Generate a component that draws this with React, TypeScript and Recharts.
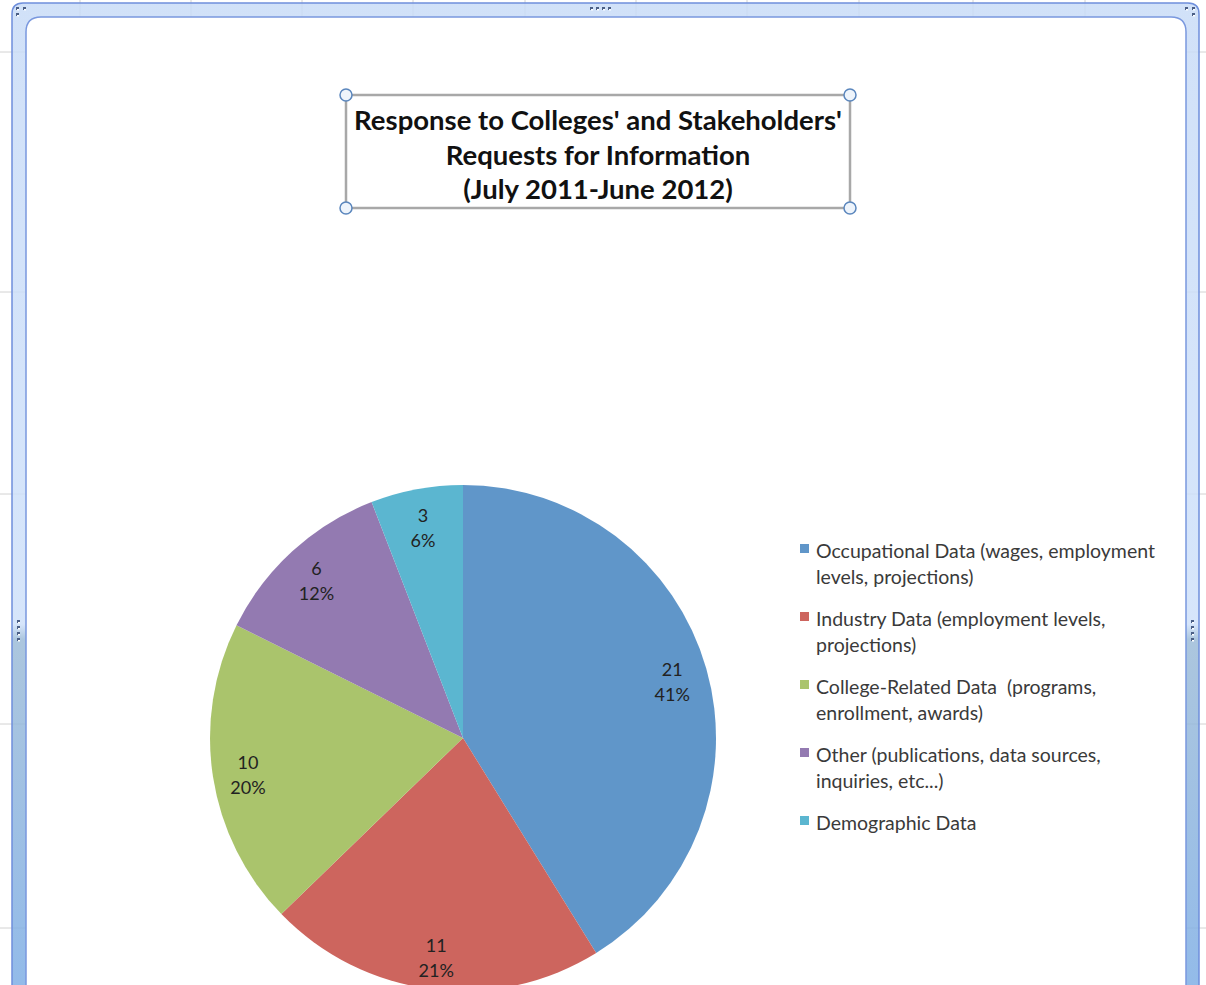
import React from 'react';
import { Cell, Legend, Pie, PieChart } from 'recharts';

const categories = [
	'Occupational Data (wages, employment levels, projections)',
	'Industry Data (employment levels, projections)',
	'College-Related Data\u00a0 (programs, enrollment, awards)',
	'Other (publications, data sources, inquiries, etc...)',
	'Demographic Data',
];
const requests = [21, 11, 10, 6, 3];
const percentLabels = ['41%', '21%', '20%', '12%', '6%'];
const colors = ['#6096C9', '#CD655E', '#AAC46C', '#937AB1', '#5BB6D0'];

const titleLines = [
	"Response to Colleges' and Stakeholders'",
	'Requests for Information',
	'(July 2011-June 2012)',
];

const data = categories.map((name, i) => ({
	name,
	value: requests[i],
	pct: percentLabels[i],
}));

// spreadsheet grid behind the chart frame
const gridCols = [80, 191, 302, 413, 525, 636, 747, 859, 973, 1085];
const gridRows = [52, 292, 494, 724, 928];

const W = 1206;
const H = 985;
const FONT = 'Lato, "Open Sans", sans-serif';
const RADIAN = Math.PI / 180;

const renderLabel = (props: any) => {
	const { cx, cy, midAngle, outerRadius, index } = props;
	const r = outerRadius * 0.86;
	const x = cx + r * Math.cos(-midAngle * RADIAN);
	const y = cy + r * Math.sin(-midAngle * RADIAN);
	return (
		<text
			x={x}
			y={y}
			textAnchor="middle"
			fill="#222"
			fontFamily={FONT}
			fontSize={18}
		>
			<tspan x={x} dy={-2}>
				{data[index].value}
			</tspan>
			<tspan x={x} dy={25}>
				{data[index].pct}
			</tspan>
		</text>
	);
};

const renderLegend = () => (
	<div style={{ fontFamily: FONT, fontSize: 19.5, color: '#3a3a3a' }}>
		{data.map((d, i) => (
			<div
				key={d.name}
				style={{
					position: 'relative',
					paddingLeft: 18,
					lineHeight: '26px',
					marginBottom: 16,
					width: 352,
				}}
			>
				<span
					style={{
						position: 'absolute',
						left: 2,
						top: 6,
						width: 9,
						height: 9,
						background: colors[i],
					}}
				/>
				{d.name}
			</div>
		))}
	</div>
);

const Dots = ({ pts }: { pts: [number, number][] }) => (
	<g>
		{pts.map(([x, y], i) => (
			<g key={i}>
				<rect x={x} y={y} width={3} height={3} fill="#4b5f86" />
				<rect x={x + 1} y={y + 2} width={2} height={1.5} fill="#ffffff" />
			</g>
		))}
	</g>
);

const Frame = () => (
	<svg
		width={W}
		height={H}
		style={{ position: 'absolute', left: 0, top: 0 }}
	>
		<defs>
			<linearGradient id="sideBand" x1="0" y1="0" x2="0" y2="1">
				<stop offset="0" stopColor="#c9dcf7" />
				<stop offset="0.62" stopColor="#cfe1fa" />
				<stop offset="0.635" stopColor="#9dbcd8" />
				<stop offset="1" stopColor="#7eaee6" />
			</linearGradient>
		</defs>
		<rect x={0} y={0} width={W} height={H} fill="#fff" />
		{gridCols.map((x) => (
			<line key={x} x1={x} y1={0} x2={x} y2={H} stroke="#d2d2d2" />
		))}
		{gridRows.map((y) => (
			<line key={y} x1={0} y1={y} x2={W} y2={y} stroke="#d2d2d2" />
		))}
		<path
			d={`M12 ${H + 20} L12 14 Q12 3 23 3 L1188 3 Q1199 3 1199 14 L1199 ${H + 20} Z`}
			fill="url(#sideBand)"
			fillOpacity={0.85}
			stroke="#6f8fdc"
			strokeWidth={1.5}
		/>
		<path
			d={`M26 ${H + 20} L26 32 Q26 17 41 17 L1171 17 Q1186 17 1186 32 L1186 ${H + 20} Z`}
			fill="#fff"
			stroke="#7a98de"
			strokeWidth={1.5}
		/>
		<Dots pts={[[16, 7], [23, 7], [16, 13]]} />
		<Dots pts={[[1185, 7], [1192, 7], [1192, 13]]} />
		<Dots pts={[[590, 7], [596, 7], [602, 7], [608, 7]]} />
		<Dots pts={[[17, 620], [17, 626], [17, 632], [17, 638]]} />
		<Dots pts={[[1191, 620], [1191, 626], [1191, 632], [1191, 638]]} />
		<rect
			x={346}
			y={95}
			width={504}
			height={113}
			fill="#fff"
			stroke="#a8a8a8"
			strokeWidth={2.5}
		/>
		{titleLines.map((t, i) => (
			<text
				key={t}
				x={598}
				y={130 + i * 34.5}
				textAnchor="middle"
				fontFamily={FONT}
				fontWeight={700}
				fontSize={27.5}
				fill="#111"
			>
				{t}
			</text>
		))}
		{[
			[346, 95],
			[850, 95],
			[346, 208],
			[850, 208],
		].map(([x, y]) => (
			<circle
				key={`${x}-${y}`}
				cx={x}
				cy={y}
				r={6}
				fill="#eef4fb"
				stroke="#5a86bd"
				strokeWidth={1.5}
			/>
		))}
	</svg>
);

const App = () => {
	return (
		<div
			style={{
				position: 'absolute',
				left: 0,
				top: 0,
				width: W,
				height: H,
				overflow: 'hidden',
				background: '#fff',
			}}
		>
			<Frame />
			<div style={{ position: 'absolute', left: 0, top: 0 }}>
				<PieChart
					width={W}
					height={H}
					margin={{ top: 0, right: 0, bottom: 0, left: 0 }}
				>
					<Pie
						data={data}
						dataKey="value"
						nameKey="name"
						cx={463}
						cy={738}
						outerRadius={253}
						startAngle={90}
						endAngle={-270}
						stroke="none"
						label={renderLabel}
						labelLine={false}
						isAnimationActive={false}
					>
						{data.map((d, i) => (
							<Cell key={d.name} fill={colors[i]} />
						))}
					</Pie>
					<Legend
						layout="vertical"
						verticalAlign="top"
						align="right"
						content={renderLegend}
						wrapperStyle={{ left: 798, top: 538, right: 'auto', width: 375 }}
					/>
				</PieChart>
			</div>
		</div>
	);
};

export default App;
